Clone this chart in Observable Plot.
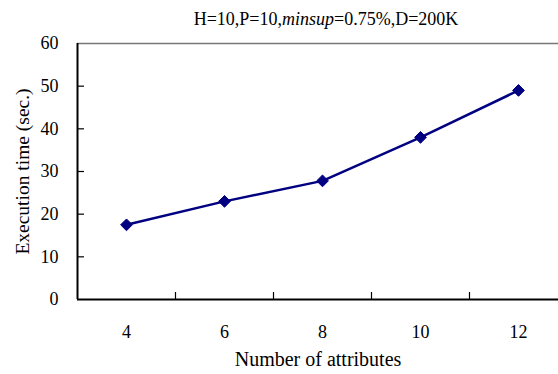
<!DOCTYPE html>
<html><head><meta charset="utf-8">
<script src="https://cdn.jsdelivr.net/npm/d3@7"></script>
<script src="https://cdn.jsdelivr.net/npm/@observablehq/plot@0.6"></script>
<style>
body{margin:0;background:#fff;}
svg{font-family:"Liberation Serif","Times New Roman",serif;}
</style></head><body><div id="chart"></div>
<script>
const attributes = [4, 6, 8, 10, 12];
const execTime = [17.5, 23, 27.8, 38, 49];
const yTicks = [0, 10, 20, 30, 40, 50, 60];
const xTickMarks = [5, 7, 9, 11];
const titleParts = [["H=10,P=10,", false], ["minsup", true], ["=0.75%,D=200K", false]];

const data = attributes.map((a, i) => ({a, t: execTime[i]}));

const chart = Plot.plot({
  width: 558, height: 374,
  marginLeft: 77, marginTop: 43, marginBottom: 75, marginRight: 0,
  style: {fontFamily: "Liberation Serif, serif", fontSize: "18px", color: "#000", background: "#fff"},
  x: {type: "linear", domain: [3, 13], range: [77, 567]},
  y: {domain: [0, 60]},
  marks: [
    Plot.ruleY([60], {stroke: "#777", strokeWidth: 1.5}),
    Plot.axisY({ticks: yTicks, tickSize: 0, tickPadding: 19, label: null, fontSize: 18}),
    Plot.axisY({ticks: yTicks, tickSize: 0, tickFormat: () => "", label: "Execution time (sec.)", labelAnchor: "center", labelOffset: 62, labelArrow: "none", fontSize: 19.5}),
    Plot.axisY({ticks: yTicks.slice(1, -1), tickSize: -7, tickFormat: () => "", label: null, strokeWidth: 1.2}),
    Plot.axisX({ticks: attributes, tickSize: 0, tickPadding: 26, label: null, fontSize: 18}),
    Plot.axisX({ticks: attributes, tickSize: 0, tickFormat: () => "", label: "Number of attributes", labelAnchor: "center", labelOffset: 66, labelArrow: "none", fontSize: 20}),
    Plot.axisX({ticks: xTickMarks, tickSize: -7, tickFormat: () => "", label: null, strokeWidth: 1.2}),
    Plot.ruleX([3], {stroke: "#000", strokeWidth: 2}),
    Plot.ruleY([0], {stroke: "#000", strokeWidth: 2}),
    Plot.line(data, {x: "a", y: "t", stroke: "#000080", strokeWidth: 2.5}),
    Plot.dot(data, {x: "a", y: "t", symbol: "diamond2", r: 5.3, fill: "#000080", stroke: "#000080", strokeWidth: 1})
  ]
});
document.getElementById("chart").appendChild(chart);

const title = d3.select(chart).append("text")
  .attr("x", 326).attr("y", 25).attr("text-anchor", "middle")
  .attr("font-size", 18).attr("fill", "#000");
titleParts.forEach(([s, it]) => title.append("tspan").attr("font-style", it ? "italic" : "normal").text(s));
</script></body></html>
